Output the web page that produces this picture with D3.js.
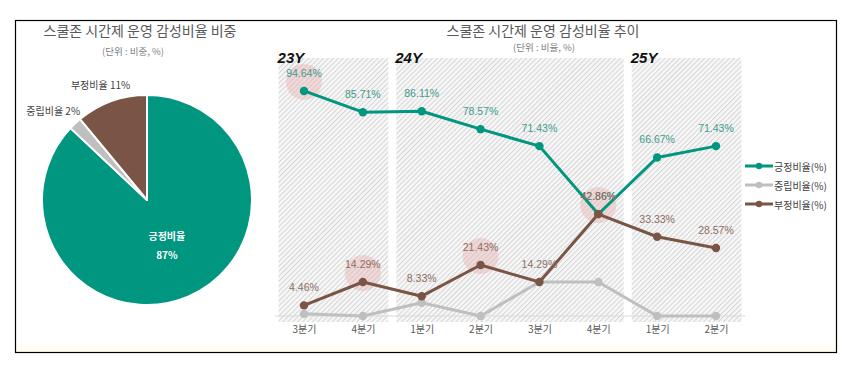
<!DOCTYPE html>
<html><head><meta charset="utf-8">
<script src="https://cdn.jsdelivr.net/npm/d3@7/dist/d3.min.js"></script>
<style>
html,body{margin:0;padding:0;background:#fff;}
svg{display:block;font-family:"Noto Sans CJK KR","Noto Sans",sans-serif;}
</style></head>
<body><svg id="c" width="853" height="372"></svg>
<script>
// ---- data ----
const pieLabels = ["긍정비율", "중립비율", "부정비율"];
const pieValues = [87, 2, 11];
const quarters = ["3분기", "4분기", "1분기", "2분기", "3분기", "4분기", "1분기", "2분기"];
const years = ["23Y", "24Y", "25Y"];
const yearStart = [0, 2, 6];
const yearEnd = [1, 5, 7];
const seriesNames = ["긍정비율(%)", "중립비율(%)", "부정비율(%)"];
const positive = [94.64, 85.71, 86.11, 78.57, 71.43, 42.86, 66.67, 71.43];
const neutral = [0.9, 0, 5.56, 0, 14.29, 14.29, 0, 0];
const negative = [4.46, 14.29, 8.33, 21.43, 14.29, 42.86, 33.33, 28.57];
const highlightSeries = [0, 2, 2, 2];
const highlightIndex = [0, 1, 3, 5];

const colors = ["#00967F", "#BFBFBF", "#7A5545"];
const labelColors = ["#3E9C8E", null, "#8C6E63"];

const svg = d3.select("#c");
svg.append("rect").attr("width", 853).attr("height", 372).attr("fill", "#fff");

// faint bottom band + frame
svg.append("rect").attr("x", 15).attr("y", 344).attr("width", 821).attr("height", 9).attr("fill", "#fffdf4");
svg.append("rect").attr("x", 15.5).attr("y", 20.5).attr("width", 821).attr("height", 332)
  .attr("fill", "none").attr("stroke", "#000").attr("stroke-width", 1.2);

// ---- Pie ----
const cx = 147, cy = 200, R = 105;
svg.append("text").attr("x", 140).attr("y", 36).attr("text-anchor", "middle")
  .attr("font-size", 14).attr("fill", "#595959").text("스쿨존 시간제 운영 감성비율 비중");
svg.append("text").attr("x", 133).attr("y", 55).attr("text-anchor", "middle")
  .attr("font-size", 9.5).attr("fill", "#7f7f7f").text("(단위 : 비중, %)");

const pie = d3.pie().sort(null).value(d => d)(pieValues);
const arc = d3.arc().innerRadius(0).outerRadius(R);
const pg = svg.append("g").attr("transform", `translate(${cx},${cy})`);
pg.selectAll("path").data(pie).join("path")
  .attr("d", arc).attr("fill", (d, i) => colors[i])
  .attr("stroke", "#fff").attr("stroke-width", 2).attr("stroke-linejoin", "round");

pie.forEach((d, i) => {
  const a = (d.startAngle + d.endAngle) / 2;
  if (i === 0) {
    const px = 50 * Math.sin(a), py = -50 * Math.cos(a);
    const t = pg.append("text").attr("text-anchor", "middle").attr("fill", "#fff")
      .attr("font-size", 10).attr("font-weight", "bold");
    t.append("tspan").attr("x", px).attr("y", py - 6).text(pieLabels[i]);
    t.append("tspan").attr("x", px).attr("y", py + 13).text(pieValues[i] + "%");
  } else {
    pg.append("text").attr("text-anchor", "middle").attr("dominant-baseline", "middle")
      .attr("x", (R + 32) * Math.sin(a)).attr("y", -(R + 16) * Math.cos(a))
      .attr("font-size", 10).attr("fill", "#404040")
      .text(pieLabels[i] + " " + pieValues[i] + "%");
  }
});

// ---- Line chart ----
svg.append("text").attr("x", 543).attr("y", 36).attr("text-anchor", "middle")
  .attr("font-size", 14).attr("fill", "#595959").text("스쿨존 시간제 운영 감성비율 추이");
svg.append("text").attr("x", 544).attr("y", 51).attr("text-anchor", "middle")
  .attr("font-size", 9.5).attr("fill", "#7f7f7f").text("(단위 : 비율, %)");

const x = d3.scalePoint().domain(d3.range(quarters.length)).range([304, 716]);
const step = x.step();
const y = d3.scaleLinear().domain([0, 100]).range([316, 78.2]);

const defs = svg.append("defs");
const pat = defs.append("pattern").attr("id", "hatch").attr("patternUnits", "userSpaceOnUse")
  .attr("width", 3.5).attr("height", 3.5).attr("patternTransform", "rotate(45)");
pat.append("rect").attr("width", 3.5).attr("height", 3.5).attr("fill", "#f7f7f7");
pat.append("line").attr("x1", 0.5).attr("y1", 0).attr("x2", 0.5).attr("y2", 3.5)
  .attr("stroke", "#d4d4d4").attr("stroke-width", 1);

years.forEach((yr, i) => {
  const x0 = x(yearStart[i]) - step / 2 + 4;
  const x1 = x(yearEnd[i]) + step / 2 - 4;
  svg.append("rect").attr("x", x0).attr("y", 58).attr("width", x1 - x0).attr("height", 264)
    .attr("fill", "url(#hatch)");
  svg.append("text").attr("x", x0 - 1).attr("y", 63).attr("font-size", 15)
    .attr("font-weight", "bold").attr("font-style", "italic").attr("fill", "#111")
    .attr("font-family", "Liberation Sans, Arial, sans-serif").text(yr);
});

// baseline
svg.append("line").attr("x1", x(0) - step / 2).attr("x2", x(7) + step / 2)
  .attr("y1", y(0)).attr("y2", y(0)).attr("stroke", "#d9d9d9").attr("stroke-width", 1);

// x axis labels
const xAxis = d3.axisBottom(x).tickSize(0).tickPadding(8).tickFormat(i => quarters[i]);
const ax = svg.append("g").attr("transform", `translate(0,${y(0) + 2})`).call(xAxis);
ax.select(".domain").remove();
ax.selectAll("text").attr("font-size", 10).attr("fill", "#595959")
  .attr("font-family", "'Noto Sans CJK KR',sans-serif");

const series = [positive, neutral, negative];

// highlights
highlightSeries.forEach((s, k) => {
  const i = highlightIndex[k];
  svg.append("circle").attr("cx", x(i)).attr("cy", y(series[s][i]) - 9).attr("r", 18)
    .attr("fill", "#e8b4b4").attr("opacity", 0.45);
});

const line = d3.line().x((d, i) => x(i)).y(d => y(d));
[1, 0, 2].forEach(s => {
  const g = svg.append("g");
  g.append("path").datum(series[s]).attr("d", line).attr("fill", "none")
    .attr("stroke", colors[s]).attr("stroke-width", 3).attr("stroke-linejoin", "round");
  g.selectAll("circle").data(series[s]).join("circle")
    .attr("cx", (d, i) => x(i)).attr("cy", d => y(d)).attr("r", 4.2).attr("fill", colors[s]);
});

[0, 2].forEach(s => {
  svg.append("g").selectAll("text").data(series[s]).join("text")
    .attr("x", (d, i) => x(i)).attr("y", d => y(d) - 14)
    .attr("text-anchor", "middle").attr("font-size", 10.5).attr("fill", labelColors[s])
    .attr("font-family", "'Liberation Sans',Arial,sans-serif")
    .text(d => d.toFixed(2) + "%");
});

// legend
seriesNames.forEach((n, i) => {
  const ly = 166 + i * 19;
  svg.append("line").attr("x1", 745).attr("x2", 773).attr("y1", ly).attr("y2", ly)
    .attr("stroke", colors[i]).attr("stroke-width", 3);
  svg.append("circle").attr("cx", 759).attr("cy", ly).attr("r", 3.2).attr("fill", colors[i]);
  svg.append("text").attr("x", 774).attr("y", ly).attr("dominant-baseline", "central")
    .attr("font-size", 10).attr("fill", "#404040").text(n);
});
</script></body></html>
